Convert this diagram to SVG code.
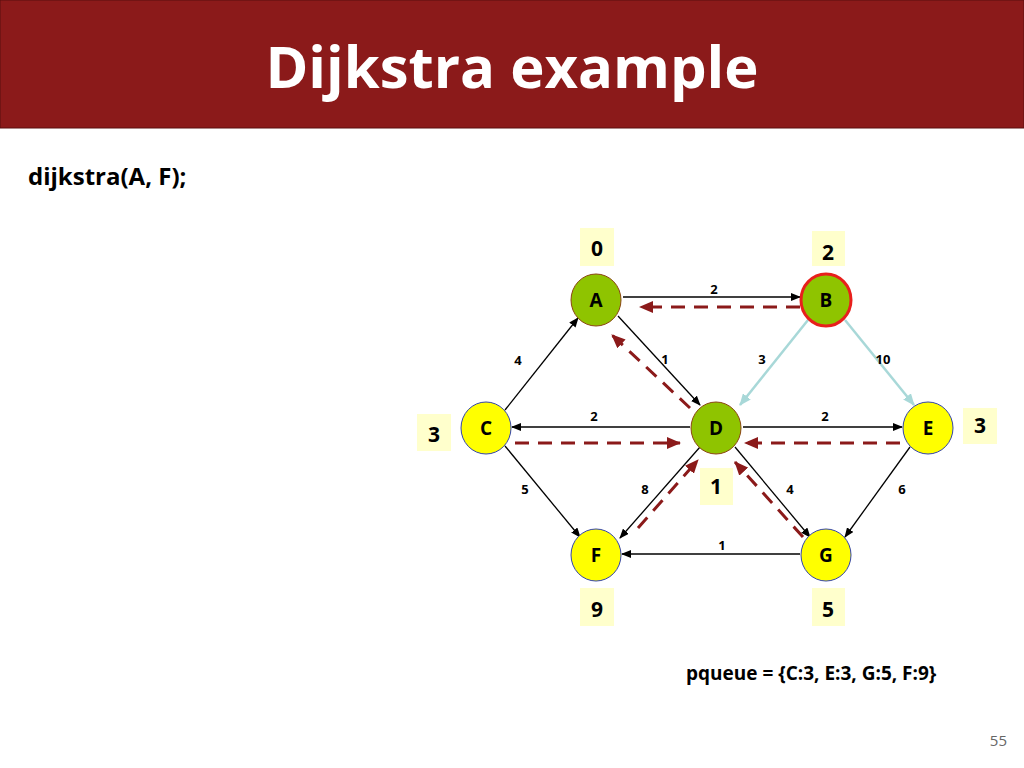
<svg xmlns="http://www.w3.org/2000/svg" width="1024" height="768" viewBox="0 0 1024 768">
<defs>
<marker id="ab" markerWidth="10" markerHeight="8" refX="9" refY="4" orient="auto" markerUnits="userSpaceOnUse"><path d="M0,0 L10,4 L0,8 Z" fill="#000"/></marker>
<marker id="ac" markerWidth="12" markerHeight="10" refX="11" refY="5" orient="auto" markerUnits="userSpaceOnUse"><path d="M0,0 L12,5 L0,10 Z" fill="#a8d8d8"/></marker>
<marker id="ar" markerWidth="14" markerHeight="12" refX="13" refY="6" orient="auto" markerUnits="userSpaceOnUse"><path d="M0,0 L14,6 L0,12 Z" fill="#8b1a1a"/></marker>
</defs>
<style>
.e{stroke:#000;stroke-width:1.3;fill:none;marker-end:url(#ab)}
.c{stroke:#a8d8d8;stroke-width:2.5;fill:none;marker-end:url(#ac)}
.r{stroke:#8b1a1a;stroke-width:3;stroke-dasharray:14,9;fill:none;marker-end:url(#ar)}
.w{font-family:"Open Sans","DejaVu Sans",sans-serif;font-size:13px;font-weight:bold;fill:#000;text-anchor:middle}
.n{font-family:"Open Sans","DejaVu Sans",sans-serif;font-size:19px;font-weight:bold;fill:#000;text-anchor:middle}
.g{fill:#8fc400;stroke:#8b4513;stroke-width:1}
.y{fill:#ffff00;stroke:#3344aa;stroke-width:1}
.bx{fill:#ffffcc}
.v{font-family:"Open Sans","DejaVu Sans",sans-serif;font-size:21px;font-weight:bold;fill:#000;text-anchor:middle}
</style>
<rect x="0" y="0" width="1024" height="128" fill="#8b1a1a" stroke="#5a0e0e"/>
<text x="512" y="88" font-family="Open Sans,DejaVu Sans,sans-serif" font-size="58" font-weight="bold" fill="#fff" text-anchor="middle">Dijkstra example</text>
<text x="28" y="185" font-family="Open Sans,DejaVu Sans,sans-serif" font-size="24" font-weight="bold" fill="#000">dijkstra(A, F);</text>
<g id="connectors">
<line class="e" x1="623" y1="297" x2="800" y2="297"/>
<line class="e" x1="505" y1="410" x2="578" y2="318"/>
<line class="e" x1="618" y1="316" x2="700" y2="405"/>
<line class="e" x1="690" y1="427" x2="512" y2="427"/>
<line class="e" x1="743" y1="427" x2="902" y2="427"/>
<line class="e" x1="505" y1="446" x2="580" y2="537"/>
<line class="e" x1="700" y1="447" x2="620" y2="538"/>
<line class="e" x1="735" y1="447" x2="810" y2="537"/>
<line class="e" x1="910" y1="447" x2="845" y2="537"/>
<line class="e" x1="800" y1="554" x2="622" y2="554"/>
<line class="c" x1="808" y1="320" x2="740" y2="405"/>
<line class="c" x1="845" y1="320" x2="914" y2="405"/>
<line class="r" x1="800" y1="307" x2="640" y2="307"/>
<line class="r" x1="690" y1="408" x2="612" y2="335"/>
<line class="r" x1="515" y1="443" x2="680" y2="443"/>
<line class="r" x1="900" y1="443" x2="745" y2="443"/>
<line class="r" x1="638" y1="528" x2="698" y2="460"/>
<line class="r" x1="803" y1="537" x2="735" y2="462"/>
<text class="w" x="714" y="294">2</text>
<text class="w" x="518" y="365">4</text>
<text class="w" x="665" y="364">1</text>
<text class="w" x="762" y="364">3</text>
<text class="w" x="883" y="364">10</text>
<text class="w" x="594" y="421">2</text>
<text class="w" x="825" y="421">2</text>
<text class="w" x="525" y="494">5</text>
<text class="w" x="645" y="494">8</text>
<text class="w" x="790" y="494">4</text>
<text class="w" x="902" y="494">6</text>
<text class="w" x="722" y="550">1</text>
</g>
<g id="A"><ellipse class="g" cx="596" cy="300" rx="25" ry="26"/><text class="n" x="596" y="307">A</text><rect class="bx" x="580" y="228" width="34" height="38"/><text class="v" x="597" y="256">0</text></g>
<g id="B"><ellipse cx="826" cy="300" rx="25" ry="26" fill="#8fc400" stroke="#e8201c" stroke-width="3"/><text class="n" x="826" y="307">B</text><rect class="bx" x="812" y="231" width="33" height="35"/><text class="v" x="828" y="260">2</text></g>
<g id="C"><ellipse class="y" cx="486" cy="428" rx="25" ry="26"/><text class="n" x="486" y="435">C</text><rect class="bx" x="417" y="414" width="34" height="37"/><text class="v" x="434" y="442">3</text></g>
<g id="D"><ellipse class="g" cx="716" cy="428" rx="25" ry="26"/><text class="n" x="716" y="435">D</text><rect class="bx" x="700" y="468" width="33" height="37"/><text class="v" x="716" y="494">1</text></g>
<g id="E"><ellipse class="y" cx="928" cy="428" rx="25" ry="26"/><text class="n" x="928" y="435">E</text><rect class="bx" x="963" y="408" width="34" height="36"/><text class="v" x="980" y="433">3</text></g>
<g id="F"><ellipse class="y" cx="596" cy="555" rx="25" ry="26"/><text class="n" x="596" y="562">F</text><rect class="bx" x="580" y="588" width="34" height="38"/><text class="v" x="597" y="617">9</text></g>
<g id="G"><ellipse class="y" cx="826" cy="555" rx="25" ry="26"/><text class="n" x="826" y="562">G</text><rect class="bx" x="812" y="588" width="33" height="38"/><text class="v" x="828" y="617">5</text></g>
<text x="686" y="680" font-family="Open Sans,DejaVu Sans,sans-serif" font-size="19" font-weight="bold" fill="#000">pqueue = {C:3, E:3, G:5, F:9}</text>
<text x="1007" y="746" font-family="Open Sans,DejaVu Sans,sans-serif" font-size="15" fill="#666" text-anchor="end">55</text>
</svg>
